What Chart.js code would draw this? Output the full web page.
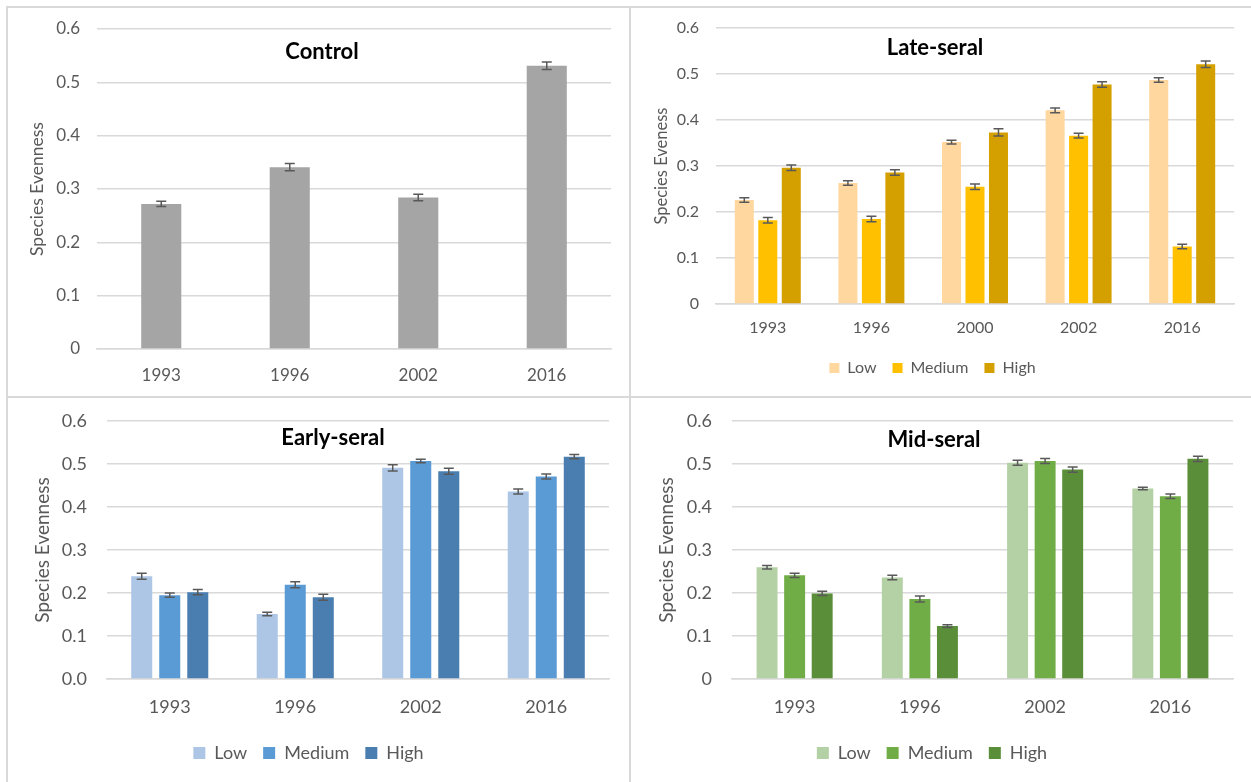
<!DOCTYPE html>
<html>
<head>
<meta charset="utf-8">
<script src="https://cdn.jsdelivr.net/npm/chart.js@4.4.1/dist/chart.umd.min.js"></script>
<style>
  html, body { margin: 0; padding: 0; background: #ffffff; }
  body { width: 1251px; height: 782px; position: relative; overflow: hidden; font-family: Lato, "Open Sans", sans-serif; }
  .rule { position: absolute; background: #d9d9d9; }
  .panel { position: absolute; }
  .panel canvas { display: block; }
</style>
</head>
<body>
<!-- frame lines between the four panels -->
<div class="rule" style="left:6px;top:6px;width:1245px;height:2px"></div>
<div class="rule" style="left:6px;top:6px;width:2px;height:776px"></div>
<div class="rule" style="left:629px;top:6px;width:2px;height:776px"></div>
<div class="rule" style="left:6px;top:396px;width:1245px;height:2px"></div>

<div class="panel" style="left:8px;top:8px"><canvas id="control" width="621" height="388"></canvas></div>
<div class="panel" style="left:631px;top:8px"><canvas id="late" width="620" height="388"></canvas></div>
<div class="panel" style="left:8px;top:398px"><canvas id="early" width="621" height="384"></canvas></div>
<div class="panel" style="left:631px;top:398px"><canvas id="mid" width="620" height="384"></canvas></div>

<script>
// ---- data ----
const years4 = ['1993', '1996', '2002', '2016'];
const years5 = ['1993', '1996', '2000', '2002', '2016'];
const levels = ['Low', 'Medium', 'High'];

const tickLabelsPlain = ['0', '0.1', '0.2', '0.3', '0.4', '0.5', '0.6'];
const tickLabelsFixed = ['0.0', '0.1', '0.2', '0.3', '0.4', '0.5', '0.6'];

// Control
const controlMean = [0.272, 0.341, 0.284, 0.531];
const controlErr  = [0.005, 0.007, 0.006, 0.007];

// Late-seral
const lateLow     = [0.226, 0.263, 0.352, 0.421, 0.487];
const lateMedium  = [0.182, 0.185, 0.255, 0.366, 0.125];
const lateHigh    = [0.296, 0.286, 0.373, 0.477, 0.521];
const lateLowErr    = [0.005, 0.005, 0.004, 0.005, 0.005];
const lateMediumErr = [0.006, 0.006, 0.006, 0.005, 0.005];
const lateHighErr   = [0.006, 0.006, 0.008, 0.006, 0.007];

// Early-seral
const earlyLow    = [0.239, 0.151, 0.491, 0.436];
const earlyMedium = [0.195, 0.219, 0.507, 0.471];
const earlyHigh   = [0.202, 0.190, 0.483, 0.517];
const earlyLowErr    = [0.007, 0.004, 0.007, 0.006];
const earlyMediumErr = [0.005, 0.007, 0.004, 0.006];
const earlyHighErr   = [0.006, 0.007, 0.007, 0.005];

// Mid-seral
const midLow    = [0.260, 0.236, 0.503, 0.443];
const midMedium = [0.241, 0.186, 0.507, 0.425];
const midHigh   = [0.199, 0.123, 0.487, 0.512];
const midLowErr    = [0.004, 0.005, 0.006, 0.003];
const midMediumErr = [0.005, 0.007, 0.006, 0.005];
const midHighErr   = [0.005, 0.003, 0.006, 0.006];

// ---- plugins ----
const errorBarPlugin = {
  id: 'errorBars',
  afterDatasetsDraw(chart, args, opts) {
    const { ctx } = chart;
    const y = chart.scales.y;
    chart.data.datasets.forEach((ds, di) => {
      if (!ds.errors) return;
      const meta = chart.getDatasetMeta(di);
      ctx.save();
      ctx.strokeStyle = opts.color || '#595959';
      ctx.lineWidth = opts.width || 1.5;
      meta.data.forEach((bar, i) => {
        const v = ds.data[i], e = ds.errors[i];
        const yTop = y.getPixelForValue(v + e);
        const yBot = y.getPixelForValue(v - e);
        const half = opts.cap || 5;
        ctx.beginPath();
        ctx.moveTo(bar.x, yTop); ctx.lineTo(bar.x, yBot);
        ctx.moveTo(bar.x - half, yTop); ctx.lineTo(bar.x + half, yTop);
        ctx.moveTo(bar.x - half, yBot); ctx.lineTo(bar.x + half, yBot);
        ctx.stroke();
      });
      ctx.restore();
    });
  }
};

const panelTitlePlugin = {
  id: 'panelTitle',
  afterDraw(chart, args, opts) {
    if (!opts.text) return;
    const { ctx } = chart;
    ctx.save();
    ctx.font = 'bold ' + opts.size + 'px Lato, "Open Sans", sans-serif';
    ctx.fillStyle = '#000000';
    ctx.textAlign = 'center';
    ctx.textBaseline = 'middle';
    ctx.fillText(opts.text, opts.x, opts.y);
    ctx.restore();
  }
};

Chart.register(errorBarPlugin, panelTitlePlugin);

const FONT = 'Lato, "Open Sans", sans-serif';
const GRID = '#d9d9d9';
const TEXT = '#595959';

function makeChart(id, cfg) {
  const ctx = document.getElementById(id);
  return new Chart(ctx, {
    type: 'bar',
    data: { labels: cfg.labels, datasets: cfg.datasets },
    options: {
      responsive: false,
      animation: false,
      events: [],
      layout: { padding: cfg.padding },
      datasets: {
        bar: {
          categoryPercentage: cfg.catPct,
          barPercentage: cfg.barPct,
          borderWidth: 0
        }
      },
      scales: {
        x: {
          grid: { display: false, drawTicks: false },
          border: { display: true, color: GRID, width: 1.5 },
          ticks: { color: TEXT, font: { family: FONT, size: cfg.tickSize }, padding: cfg.xPad, maxRotation: 0 },
          afterFit(scale) { scale.height = cfg.xHeight; }
        },
        y: {
          min: 0, max: 0.6,
          grid: { color: GRID, lineWidth: 1.5, drawTicks: false },
          border: { display: false },
          ticks: {
            stepSize: 0.1,
            color: TEXT,
            font: { family: FONT, size: cfg.tickSize },
            padding: cfg.yPad,
            callback: (v, i) => cfg.tickLabels[i]
          },
          title: {
            display: true,
            text: cfg.yTitle,
            color: TEXT,
            font: { family: FONT, size: cfg.yTitleSize },
            padding: { top: cfg.yTitleOffset, bottom: 0 }
          },
          afterFit(scale) {
            scale.width = cfg.yWidth;
            // the plot edges are fixed by the layout padding alone
            scale.paddingTop = 0;
            scale.paddingBottom = 0;
          }
        }
      },
      plugins: {
        legend: {
          display: cfg.legend,
          position: 'bottom',
          labels: {
            boxWidth: cfg.box, boxHeight: cfg.box,
            color: TEXT,
            padding: 16,
            font: { family: FONT, size: cfg.legendSize }
          }
        },
        tooltip: { enabled: false },
        errorBars: { color: '#595959', width: 1.5, cap: 5 },
        panelTitle: { text: cfg.title, x: cfg.titleX, y: cfg.titleY, size: 22 }
      }
    }
  });
}

function series(label, data, errors, color) {
  return { label, data, errors, backgroundColor: color };
}

makeChart('control', {
  labels: years4,
  datasets: [series('Control', controlMean, controlErr, '#a5a5a5')],
  padding: { top: 21, right: 18, bottom: 0, left: 0 },
  catPct: 0.8, barPct: 0.39,
  tickSize: 17, xPad: 16, yPad: 17, xHeight: 47, yWidth: 89,
  tickLabels: tickLabelsPlain,
  yTitle: 'Species Evenness', yTitleSize: 17.5, yTitleOffset: 19,
  legend: false, legendSize: 16, box: 10,
  title: 'Control', titleX: 314, titleY: 44
});

makeChart('late', {
  labels: years5,
  datasets: [
    series(levels[0], lateLow, lateLowErr, '#ffd79f'),
    series(levels[1], lateMedium, lateMediumErr, '#ffc000'),
    series(levels[2], lateHigh, lateHighErr, '#d4a000')
  ],
  padding: { top: 20, right: 17, bottom: 10, left: 0 },
  catPct: 0.68, barPct: 0.81,
  tickSize: 16, xPad: 14, yPad: 17, xHeight: 40, yWidth: 85,
  tickLabels: tickLabelsPlain,
  yTitle: 'Species Eveness', yTitleSize: 16.5, yTitleOffset: 21,
  legend: true, legendSize: 16, box: 10,
  title: 'Late-seral', titleX: 304, titleY: 40
});

makeChart('early', {
  labels: years4,
  datasets: [
    series(levels[0], earlyLow, earlyLowErr, '#adc6e6'),
    series(levels[1], earlyMedium, earlyMediumErr, '#5b9bd5'),
    series(levels[2], earlyHigh, earlyHighErr, '#4a7eb0')
  ],
  padding: { top: 23, right: 20, bottom: 10, left: 0 },
  catPct: 0.67, barPct: 0.75,
  tickSize: 18, xPad: 17, yPad: 20, xHeight: 49, yWidth: 99,
  tickLabels: tickLabelsFixed,
  yTitle: 'Species Evenness', yTitleSize: 19, yTitleOffset: 23,
  legend: true, legendSize: 18, box: 12,
  title: 'Early-seral', titleX: 325, titleY: 40
});

makeChart('mid', {
  labels: years4,
  datasets: [
    series(levels[0], midLow, midLowErr, '#b4d0a5'),
    series(levels[1], midMedium, midMediumErr, '#70ad47'),
    series(levels[2], midHigh, midHighErr, '#5a8e39')
  ],
  padding: { top: 23, right: 18, bottom: 10, left: 0 },
  catPct: 0.66, barPct: 0.76,
  tickSize: 18, xPad: 17, yPad: 20, xHeight: 49, yWidth: 101,
  tickLabels: tickLabelsPlain,
  yTitle: 'Species Evenness', yTitleSize: 19, yTitleOffset: 24,
  legend: true, legendSize: 18, box: 12,
  title: 'Mid-seral', titleX: 303, titleY: 42
});
</script>
</body>
</html>
